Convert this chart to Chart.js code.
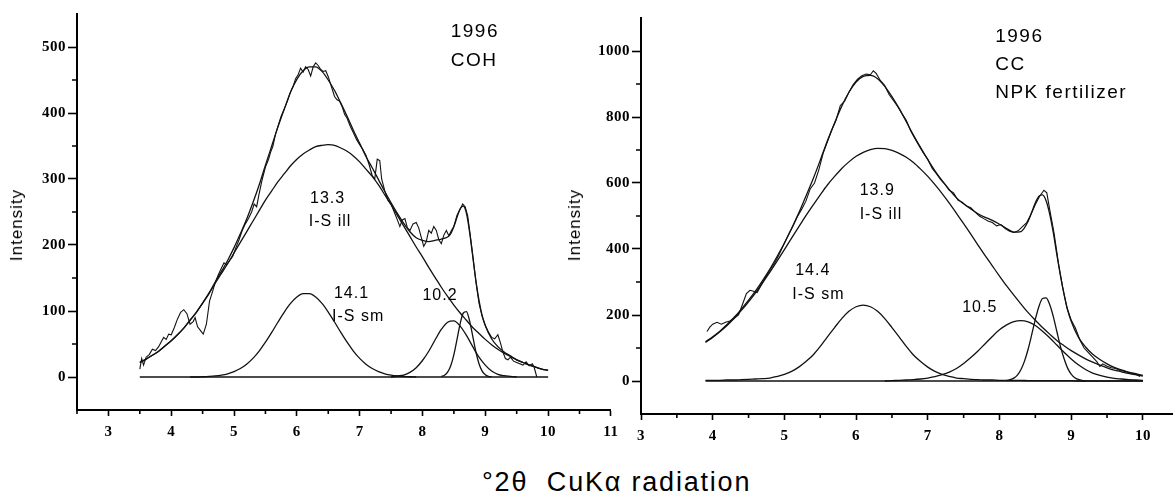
<!DOCTYPE html>
<html>
<head>
<meta charset="utf-8">
<script src="https://cdn.jsdelivr.net/npm/chart.js@4.4.1/dist/chart.umd.min.js"></script>
<style>
html,body{margin:0;padding:0;background:#fff;}
#wrap{position:relative;width:1173px;height:500px;overflow:hidden;background:#fff;}
#c1{position:absolute;left:0;top:0;width:625px;height:440px;}
#c2{position:absolute;left:560px;top:0;width:613px;height:440px;}
.ytitle{position:absolute;font-family:'Liberation Sans',Arial,sans-serif;font-size:17px;letter-spacing:1px;color:#000;transform:translate(-50%,-50%) rotate(-90deg);white-space:nowrap;line-height:20px;}
#xtitle{position:absolute;left:482px;top:466px;font-family:'Liberation Sans',Arial,sans-serif;font-size:27px;letter-spacing:1.8px;line-height:32px;color:#000;white-space:nowrap;}
</style>
</head>
<body>
<div id="wrap">
<canvas id="c1" width="625" height="440"></canvas>
<canvas id="c2" width="613" height="440"></canvas>
<div class="ytitle" style="left:17px;top:225px">Intensity</div>
<div class="ytitle" style="left:575px;top:225px">Intensity</div>
<div id="xtitle">°2θ&nbsp; CuKα radiation</div>
</div>
<script>
// ---------------- LEFT PANEL (1996 COH) ----------------
const leftXTicks = [3, 4, 5, 6, 7, 8, 9, 10, 11];
const leftYTicks = [0, 100, 200, 300, 400, 500];
const leftXMinor = [2.5, 3.5, 4.5, 5.5, 6.5, 7.5, 8.5, 9.5, 10.5];
const leftYMinor = [50, 150, 250, 350, 450];

const leftGridX = [3.5,3.6,3.7,3.8,3.9,4.0,4.1,4.2,4.3,4.4,4.5,4.6,4.7,4.8,4.9,5.0,5.1,5.2,5.3,5.4,5.5,5.6,5.7,5.8,5.9,6.0,6.1,6.2,6.3,6.4,6.5,6.6,6.7,6.8,6.9,7.0,7.1,7.2,7.3,7.4,7.5,7.6,7.7,7.8,7.9,8.0,8.1,8.2,8.3,8.4,8.5,8.6,8.7,8.8,8.9,9.0,9.1,9.2,9.3,9.4,9.5,9.6,9.7,9.8,9.9,10.0];
// 13.3 I-S ill component
const leftIll = [22,27,33,39,47,55,64,74,86,98,112,126,142,157,172,188,204,220,236,252,268,282,296,308,320,330,338,344,349,351,352,351,347,342,335,326,315,304,291,276,261,245,229,213,197,182,166,151,136,122,109,97,86,75,66,57,49,42,36,31,26,22,18,15,12,10];
// 14.1 I-S sm component
const leftSmX = [4.3,4.4,4.5,4.6,4.7,4.8,4.9,5.0,5.1,5.2,5.3,5.4,5.5,5.6,5.7,5.8,5.9,6.0,6.1,6.2,6.3,6.4,6.5,6.6,6.7,6.8,6.9,7.0,7.1,7.2,7.3,7.4,7.5,7.6,7.7,7.8,7.9];
const leftSm = [0,0,0.4,0.9,1.6,2.8,4.9,8.1,12.8,19.4,28.2,39.3,52.7,67.6,83.3,98.4,111.5,121.2,126.3,126.3,121.2,111.5,98.4,83.3,67.6,52.7,39.3,28.2,19.4,12.8,8.1,4.9,2.8,1.6,0.9,0.4,0];
// 10.2 component
const left102X = [7.5,7.6,7.7,7.8,7.9,8.0,8.1,8.2,8.3,8.4,8.5,8.6,8.7,8.8,8.9,9.0,9.1,9.2,9.3,9.4,9.5];
const left102 = [0,1.5,3,7,14,25,39,56,72,83,85,77,63,46,30,18,9,4,2,1,0];
// sharp ~10 A peak
const leftSharpX = [8.30,8.35,8.40,8.45,8.50,8.55,8.60,8.65,8.70,8.75,8.80,8.85,8.90,8.95,9.00,9.05,9.10];
const leftSharp = [0.8,2.7,7.3,17,34,57,81,97,99,85,62,38,20,8.8,3.3,1,0.3];
// fitted sum
const leftSumX = [3.5,3.6,3.7,3.8,3.9,4.0,4.1,4.2,4.3,4.4,4.5,4.6,4.7,4.8,4.9,5.0,5.1,5.2,5.3,5.4,5.5,5.6,5.7,5.8,5.9,6.0,6.1,6.2,6.3,6.4,6.5,6.6,6.7,6.8,6.9,7.0,7.1,7.2,7.3,7.4,7.5,7.6,7.7,7.8,7.9,8.0,8.1,8.2,8.3,8.4,8.45,8.5,8.55,8.6,8.65,8.7,8.75,8.8,8.85,8.9,8.95,9.0,9.1,9.2,9.3,9.4,9.5,9.6,9.7,9.8,9.9,10.0];
const leftSum = [22,27,33,39,47,55,64,74,86,98,112,127,144,160,177,196,217,239,264,291,321,350,379,406,432,451,464,470,470,463,450,434,415,395,374,354,334,317,299,281,264,248,233,220,211,207,205,207,209,212,217,228,242,255,259,248,220,183,146,116,93,78,58,46,38,32,26,22,18,15,12,10];
// observed pattern
const leftObsX = [3.50,3.53,3.56,3.60,3.65,3.70,3.75,3.80,3.85,3.88,3.92,3.96,4.00,4.05,4.10,4.15,4.20,4.25,4.30,4.35,4.38,4.42,4.47,4.51,4.56,4.61,4.66,4.70,4.75,4.80,4.84,4.88,4.92,4.98,5.03,5.08,5.13,5.18,5.23,5.28,5.32,5.36,5.40,5.45,5.50,5.55,5.58,5.62,5.66,5.70,5.75,5.80,5.85,5.90,5.94,5.98,6.02,6.06,6.10,6.14,6.18,6.22,6.26,6.30,6.34,6.38,6.42,6.46,6.50,6.55,6.60,6.64,6.68,6.72,6.76,6.80,6.85,6.90,6.95,7.00,7.05,7.10,7.15,7.20,7.24,7.28,7.32,7.35,7.40,7.45,7.50,7.55,7.60,7.64,7.68,7.72,7.76,7.80,7.85,7.90,7.94,7.98,8.02,8.06,8.10,8.14,8.18,8.22,8.26,8.30,8.34,8.38,8.42,8.46,8.50,8.55,8.60,8.64,8.68,8.72,8.76,8.80,8.85,8.90,8.95,9.00,9.05,9.10,9.15,9.20,9.24,9.28,9.32,9.36,9.40,9.45,9.50,9.55,9.60,9.65,9.70,9.75,9.78,9.82];
const leftObs = [12,28,18,30,34,42,40,46,55,60,57,65,64,75,88,98,102,96,80,84,90,76,70,65,80,115,130,143,155,165,173,170,175,183,196,208,222,232,240,250,262,258,278,300,318,330,340,350,368,380,395,406,418,432,440,452,458,468,462,470,466,456,470,476,472,466,463,464,455,440,425,420,418,410,398,392,380,370,360,352,345,336,322,305,300,330,328,300,282,268,262,250,238,228,238,240,226,222,232,234,226,212,198,205,222,218,228,222,208,202,215,222,214,222,228,245,254,262,258,244,215,185,145,112,92,78,68,60,58,64,52,38,28,26,30,24,22,20,18,23,17,20,14,0];
const leftBaseX = [3.5, 10.0];
const leftBase = [0, 0];

// ---------------- RIGHT PANEL (1996 CC NPK) ----------------
const rightXTicks = [3, 4, 5, 6, 7, 8, 9, 10];
const rightYTicks = [0, 200, 400, 600, 800, 1000];
const rightXMinor = [3.5, 4.5, 5.5, 6.5, 7.5, 8.5, 9.5];
const rightYMinor = [100, 300, 500, 700, 900];

const rightGridX = [3.9,4.0,4.1,4.2,4.3,4.4,4.5,4.6,4.7,4.8,4.9,5.0,5.1,5.2,5.3,5.4,5.5,5.6,5.7,5.8,5.9,6.0,6.1,6.2,6.3,6.4,6.5,6.6,6.7,6.8,6.9,7.0,7.1,7.2,7.3,7.4,7.5,7.6,7.7,7.8,7.9,8.0,8.1,8.2,8.3,8.4,8.5,8.6,8.7,8.8,8.9,9.0,9.1,9.2,9.3,9.4,9.5,9.6,9.7,9.8,9.9,10.0];
// 13.9 I-S ill component
const rightIll = [117,132,149,168,190,214,240,268,299,331,364,398,433,467,501,533,564,594,620,644,664,681,693,701,705,704,699,690,678,662,642,620,595,568,539,508,477,445,412,380,349,318,288,260,233,207,184,162,142,123,107,92,79,67,57,48,40,33,28,23,19,15];
// 14.4 I-S sm component
const rightSm = [2,2,2,3,3,4,5,6,7,9,14,20,29,42,59,79,105,134,162,189,211,225,230,225,211,189,162,134,105,79,59,42,29,20,14,9,7,5,4,3,3,2,2,2,2,1,1,1,1,1,1,1,0,0,0,0,0,0,0,0,0,0];
// 10.5 component
const right105X = [6.4,6.5,6.6,6.7,6.8,6.9,7.0,7.1,7.2,7.3,7.4,7.5,7.6,7.7,7.8,7.9,8.0,8.1,8.2,8.3,8.4,8.5,8.6,8.7,8.8,8.9,9.0,9.1,9.2,9.3,9.4,9.5,9.6,9.7,9.8,9.9,10.0];
const right105 = [0,1,2,3,4,6,9,13,19,27,38,53,71,91,113,135,155,170,180,183,179,168,151,131,109,87,67,49,35,24,17,12,8,6,4,3,2];
// sharp ~10 A peak
const rightSharpX = [8.10,8.15,8.20,8.25,8.30,8.35,8.40,8.45,8.50,8.55,8.60,8.65,8.70,8.75,8.80,8.85,8.90,8.95,9.00,9.05,9.10,9.15,9.20];
const rightSharp = [1.5,3.9,8.8,18,35,61,97,141,187,226,250,252,232,196,150,105,68,39,21,10,4.6,1.9,0.7];
// fitted sum
const rightSumX = [3.9,4.0,4.1,4.2,4.3,4.4,4.5,4.6,4.7,4.8,4.9,5.0,5.1,5.2,5.3,5.4,5.5,5.6,5.7,5.8,5.9,6.0,6.1,6.2,6.3,6.4,6.5,6.6,6.7,6.8,6.9,7.0,7.1,7.2,7.3,7.4,7.5,7.6,7.7,7.8,7.9,8.0,8.1,8.2,8.3,8.4,8.45,8.5,8.55,8.6,8.65,8.7,8.75,8.8,8.85,8.9,8.95,9.0,9.1,9.2,9.3,9.4,9.5,9.6,9.7,9.8,9.9,10.0];
const rightSum = [119,134,151,171,193,218,245,274,306,340,378,418,462,509,560,612,669,728,782,833,875,906,923,926,916,893,862,826,786,745,707,671,637,607,580,555,537,521,507,496,487,475,462,451,453,484,512,540,560,564,546,506,450,383,319,263,216,181,133,103,81,65,52,41,34,27,22,17];
// observed pattern
const rightObsX = [3.92,3.96,4.00,4.06,4.12,4.18,4.24,4.30,4.36,4.42,4.47,4.52,4.57,4.62,4.68,4.75,4.80,4.86,4.92,4.98,5.05,5.12,5.18,5.24,5.30,5.36,5.42,5.48,5.54,5.60,5.66,5.72,5.78,5.84,5.90,5.96,6.02,6.08,6.14,6.20,6.24,6.28,6.34,6.40,6.46,6.52,6.58,6.64,6.70,6.76,6.82,6.88,6.94,7.00,7.06,7.12,7.18,7.24,7.30,7.36,7.42,7.48,7.54,7.60,7.66,7.72,7.78,7.84,7.90,7.96,8.02,8.08,8.14,8.20,8.26,8.32,8.38,8.44,8.50,8.56,8.62,8.66,8.70,8.76,8.82,8.88,8.94,9.00,9.06,9.12,9.18,9.24,9.30,9.36,9.40,9.44,9.50,9.56,9.62,9.68,9.74,9.80,9.86,9.92,9.96];
const rightObs = [150,163,172,178,172,178,182,190,200,235,265,275,272,268,292,318,338,356,380,408,440,470,498,520,545,582,600,640,690,725,760,790,835,848,875,898,915,925,930,928,940,932,910,895,868,850,832,810,790,758,735,712,690,672,645,628,610,596,578,570,548,542,530,525,512,500,492,485,480,470,474,462,454,450,455,468,480,505,535,560,578,570,520,450,360,285,222,185,160,125,100,86,72,58,44,52,45,40,38,32,30,26,22,18,14];
const rightBaseX = [3.9, 10.0];
const rightBase = [0, 0];

// ---------------- annotations (data coordinates) ----------------
const leftNotes = [
  {text: '1996', x: 8.45, y: 523, big: true},
  {text: 'COH', x: 8.45, y: 479, big: true},
  {text: '13.3', x: 6.21, y: 271},
  {text: 'I-S ill', x: 6.19, y: 235},
  {text: '14.1', x: 6.59, y: 127},
  {text: 'I-S sm', x: 6.56, y: 91},
  {text: '10.2', x: 8.0, y: 123}
];
const rightNotes = [
  {text: '1996', x: 7.94, y: 1042, big: true},
  {text: 'CC', x: 7.94, y: 958, big: true},
  {text: 'NPK fertilizer', x: 7.94, y: 873, big: true},
  {text: '13.9', x: 6.05, y: 576},
  {text: 'I-S ill', x: 6.05, y: 503},
  {text: '14.4', x: 5.15, y: 336},
  {text: 'I-S sm', x: 5.11, y: 261},
  {text: '10.5', x: 7.48, y: 221}
];

// ---------------- helpers ----------------
function pts(xs, ys) { return xs.map((x, i) => ({x: x, y: ys[i]})); }

function smooth(xs, ys) {
  return {data: pts(xs, ys), borderColor: '#111', borderWidth: 1.3, pointRadius: 0,
          fill: false, cubicInterpolationMode: 'monotone'};
}
function jagged(xs, ys) {
  return {data: pts(xs, ys), borderColor: '#111', borderWidth: 1.1, pointRadius: 0,
          fill: false, tension: 0};
}

function makeDecor(xMinor, yMinor, notes) {
  return {
    id: 'decor',
    beforeDraw(chart) { chart.ctx.letterSpacing = '0.5px'; },
    afterDatasetsDraw(chart) {
      const ctx = chart.ctx, sx = chart.scales.x, sy = chart.scales.y;
      ctx.save();
      ctx.fillStyle = '#000';
      ctx.textAlign = 'left';
      ctx.textBaseline = 'middle';
      notes.forEach(n => {
        ctx.font = (n.big ? 19 : 16) + "px 'Liberation Sans', Arial, sans-serif";
        ctx.letterSpacing = n.big ? '1.5px' : '1px';
        ctx.fillText(n.text, sx.getPixelForValue(n.x), sy.getPixelForValue(n.y));
      });
      ctx.restore();
    },
    afterDraw(chart) {
      const ctx = chart.ctx, sx = chart.scales.x, sy = chart.scales.y, a = chart.chartArea;
      ctx.save();
      ctx.strokeStyle = '#000';
      ctx.lineWidth = 1.6;
      ctx.beginPath();
      xMinor.forEach(v => { const p = sx.getPixelForValue(v); ctx.moveTo(p, a.bottom); ctx.lineTo(p, a.bottom + 4); });
      yMinor.forEach(v => { const p = sy.getPixelForValue(v); ctx.moveTo(a.left, p); ctx.lineTo(a.left - 5, p); });
      ctx.stroke();
      ctx.restore();
      ctx.letterSpacing = '0px';
    }
  };
}

const tickFont = {family: "'Liberation Serif', 'Times New Roman', serif", size: 15, weight: 'bold'};

function axisX(min, max, ticks, h) {
  return {
    type: 'linear', min: min, max: max,
    afterBuildTicks: s => { s.ticks = ticks.map(v => ({value: v})); },
    afterFit: s => { s.height = h; },
    grid: {display: true, drawOnChartArea: false, drawTicks: true, tickLength: 6, tickWidth: 1.6, tickColor: '#000'},
    border: {display: true, color: '#000', width: 2},
    ticks: {color: '#000', font: tickFont, padding: 7, maxRotation: 0, autoSkip: false,
            callback: v => String(v)}
  };
}
function axisY(min, max, ticks, w) {
  return {
    type: 'linear', min: min, max: max,
    afterBuildTicks: s => { s.ticks = ticks.map(v => ({value: v})); },
    afterFit: s => { s.width = w; },
    grid: {display: true, drawOnChartArea: false, drawTicks: true, tickLength: 9, tickWidth: 1.6, tickColor: '#000'},
    border: {display: true, color: '#000', width: 2},
    ticks: {color: '#000', font: tickFont, padding: 2, autoSkip: false,
            callback: v => String(v)}
  };
}

function baseOptions(pad) {
  return {
    responsive: false, animation: false, events: [],
    layout: {padding: pad},
    plugins: {legend: {display: false}, tooltip: {enabled: false}, title: {display: false}}
  };
}

// ---------------- left chart ----------------
const opt1 = baseOptions({top: 14, right: 12, left: 0, bottom: 0});
opt1.scales = {x: axisX(2.5, 11, leftXTicks, 30), y: axisY(-50, 550, leftYTicks, 77)};
new Chart(document.getElementById('c1'), {
  type: 'line',
  data: {datasets: [
    smooth(leftBaseX, leftBase),
    smooth(leftGridX, leftIll),
    smooth(leftSmX, leftSm),
    smooth(left102X, left102),
    smooth(leftSharpX, leftSharp),
    smooth(leftSumX, leftSum),
    jagged(leftObsX, leftObs)
  ]},
  options: opt1,
  plugins: [makeDecor(leftXMinor, leftYMinor, leftNotes)]
});

// ---------------- right chart ----------------
const opt2 = baseOptions({top: 18, right: 0, left: 0, bottom: 0});
opt2.scales = {x: axisX(3, 10.42, rightXTicks, 26), y: axisY(-100, 1100, rightYTicks, 81)};
new Chart(document.getElementById('c2'), {
  type: 'line',
  data: {datasets: [
    smooth(rightBaseX, rightBase),
    smooth(rightGridX, rightIll),
    smooth(rightGridX, rightSm),
    smooth(right105X, right105),
    smooth(rightSharpX, rightSharp),
    smooth(rightSumX, rightSum),
    jagged(rightObsX, rightObs)
  ]},
  options: opt2,
  plugins: [makeDecor(rightXMinor, rightYMinor, rightNotes)]
});
</script>
</body>
</html>
